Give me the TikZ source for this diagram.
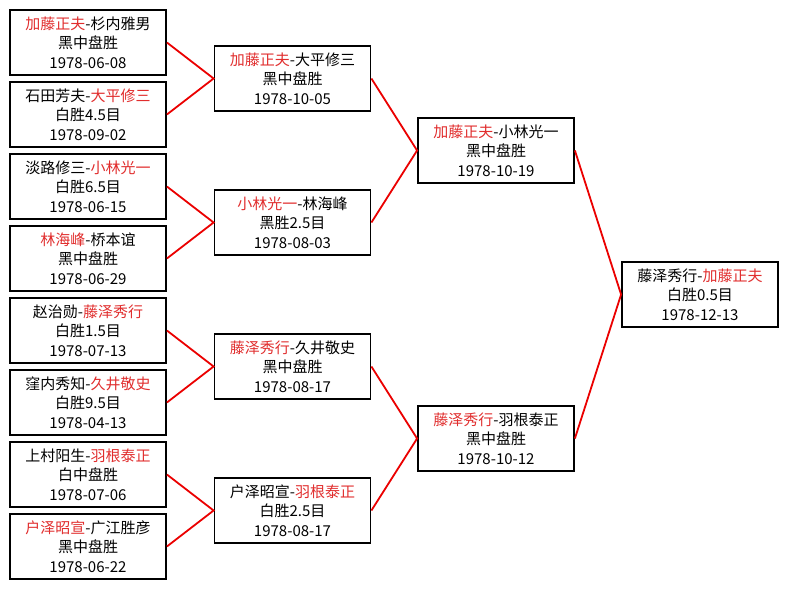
\documentclass[tikz,border=0pt]{standalone}
\usepackage{fontspec}
\setmainfont{Noto Sans CJK SC}
\definecolor{winred}{RGB}{225,45,45}
\definecolor{linkred}{RGB}{235,0,0}
\newcommand{\win}[1]{\textcolor{winred}{#1}}
\tikzset{
  game/.style={draw=black, line width=1.8pt, fill=white, minimum width=156pt,
    minimum height=65pt, align=center, inner sep=0pt,
    font=\fontsize{15}{19.5}\selectfont},
  link/.style={draw=linkred, line width=1.8pt}
}
\begin{document}
\begin{tikzpicture}[x=1pt, y=-1pt]
\useasboundingbox[fill=white] (0,0) rectangle (788,589);

%% === PRIMO TURNO ===
\node[game] (r1a) at (88, 42.5)  {\win{加藤正夫}-杉内雅男\\黑中盘胜\\1978-06-08};
\node[game] (r1b) at (88,114.5)  {石田芳夫-\win{大平修三}\\白胜4.5目\\1978-09-02};
\node[game] (r1c) at (88,186.5)  {淡路修三-\win{小林光一}\\白胜6.5目\\1978-06-15};
\node[game] (r1d) at (88,258.5)  {\win{林海峰}-桥本谊\\黑中盘胜\\1978-06-29};
\node[game] (r1e) at (88,330.5)  {赵治勋-\win{藤泽秀行}\\白胜1.5目\\1978-07-13};
\node[game] (r1f) at (88,402.5)  {窪内秀知-\win{久井敬史}\\白胜9.5目\\1978-04-13};
\node[game] (r1g) at (88,474.5)  {上村阳生-\win{羽根泰正}\\白中盘胜\\1978-07-06};
\node[game] (r1h) at (88,546.5)  {\win{户泽昭宣}-广江胜彦\\黑中盘胜\\1978-06-22};

%% === SECONDO TURNO ===
\node[game] (r2a) at (292.5, 78.5) {\win{加藤正夫}-大平修三\\黑中盘胜\\1978-10-05};
\node[game] (r2b) at (292.5,222.5) {\win{小林光一}-林海峰\\黑胜2.5目\\1978-08-03};
\node[game] (r2c) at (292.5,366.5) {\win{藤泽秀行}-久井敬史\\黑中盘胜\\1978-08-17};
\node[game] (r2d) at (292.5,510.5) {户泽昭宣-\win{羽根泰正}\\白胜2.5目\\1978-08-17};

%% === SEMIFINALI ===
\node[game] (r3a) at (496,150.5) {\win{加藤正夫}-小林光一\\黑中盘胜\\1978-10-19};
\node[game] (r3b) at (496,438.5) {\win{藤泽秀行}-羽根泰正\\黑中盘胜\\1978-10-12};

%% === FINALE ===
\node[game] (fin) at (700,294.5) {藤泽秀行-\win{加藤正夫}\\白胜0.5目\\1978-12-13};

%% collegamenti
\foreach \a/\b/\p in {r1a/r1b/r2a, r1c/r1d/r2b, r1e/r1f/r2c, r1g/r1h/r2d,
                      r2a/r2b/r3a, r2c/r2d/r3b, r3a/r3b/fin}
    \draw[link] (\a.east) -- (\p.west) -- (\b.east);

\end{tikzpicture}
\end{document}
